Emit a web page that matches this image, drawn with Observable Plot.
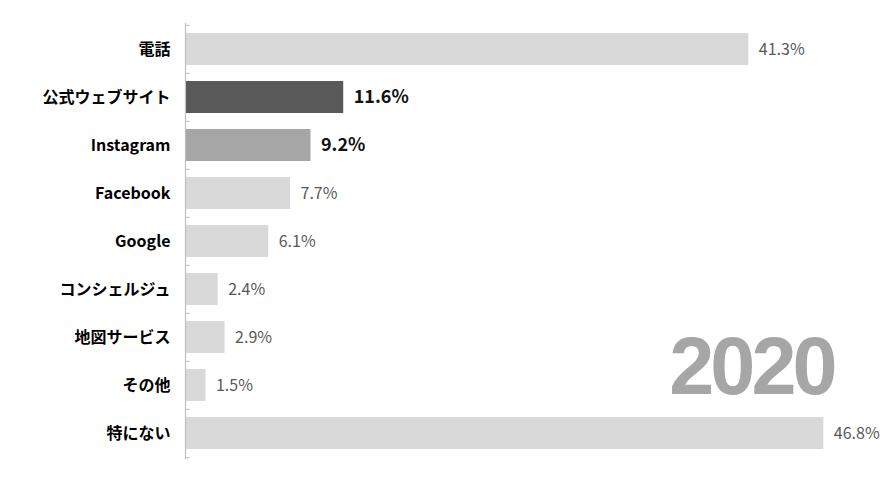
<!DOCTYPE html>
<html><head><meta charset="utf-8">
<script src="https://cdn.jsdelivr.net/npm/d3@7"></script>
<script src="https://cdn.jsdelivr.net/npm/@observablehq/plot@0.6"></script>
<style>
html,body{margin:0;padding:0;background:#fff;}
</style>
</head><body>
<div id="chart"></div>
<script>
const categories = ["電話","公式ウェブサイト","Instagram","Facebook","Google","コンシェルジュ","地図サービス","その他","特にない"];
const values = [41.3, 11.6, 9.2, 7.7, 6.1, 2.4, 2.9, 1.5, 46.8];
const highlight = {"公式ウェブサイト": "#595959", "Instagram": "#a6a6a6"};
const yearLabel = ["2020"];

const data = categories.map((c, i) => ({cat: c, v: values[i], label: values[i].toFixed(1) + "%"}));
const plain = data.filter(d => !highlight[d.cat]);
const bold = data.filter(d => highlight[d.cat]);

const W = 895, H = 482, mT = 23, mB = 23;
const step = (H - mT - mB) / 9;

const chart = Plot.plot({
  width: W, height: H,
  marginLeft: 185, marginRight: 28, marginTop: mT, marginBottom: mB,
  style: {fontFamily: "'Noto Sans CJK JP', 'Noto Sans', sans-serif", background: "#fff"},
  x: {domain: [0, 50], axis: null},
  y: {domain: categories, paddingInner: 0.33, paddingOuter: 0.165, label: null},
  marks: [
    Plot.barX(data, {y: "cat", x: "v", fill: d => highlight[d.cat] || "#d9d9d9"}),
    Plot.ruleX([0], {stroke: "#bfbfbf", strokeWidth: 1.2}),
    Plot.ruleY(categories, {y: d => d, x1: 0, x2: 0.36, dy: -step / 2, stroke: "#bfbfbf"}),
    Plot.ruleY(categories.slice(-1), {y: d => d, x1: 0, x2: 0.36, dy: step / 2, stroke: "#bfbfbf"}),
    Plot.axisY({tickSize: 0, tickPadding: 15, fontSize: 16, fontWeight: "bold", fill: "#000", label: null}),
    Plot.text(plain, {y: "cat", x: "v", text: "label", dx: 10, textAnchor: "start", fill: "#595959", fontSize: 16}),
    Plot.text(bold, {y: "cat", x: "v", text: "label", dx: 10, textAnchor: "start", fill: "#111", fontSize: 18, fontWeight: "bold"}),
    Plot.text(yearLabel, {frameAnchor: "bottom-right", text: d => d, dx: -34, dy: -66, lineAnchor: "bottom",
      fontSize: 81, fontWeight: "bold", fill: "#a6a6a6", fontFamily: "'Liberation Sans', Arial, sans-serif"})
  ]
});
chart.querySelectorAll("text").forEach(t => { if (t.textContent === "2020") t.setAttribute("letter-spacing", "-4"); });
document.getElementById("chart").appendChild(chart);
</script>
</body></html>
